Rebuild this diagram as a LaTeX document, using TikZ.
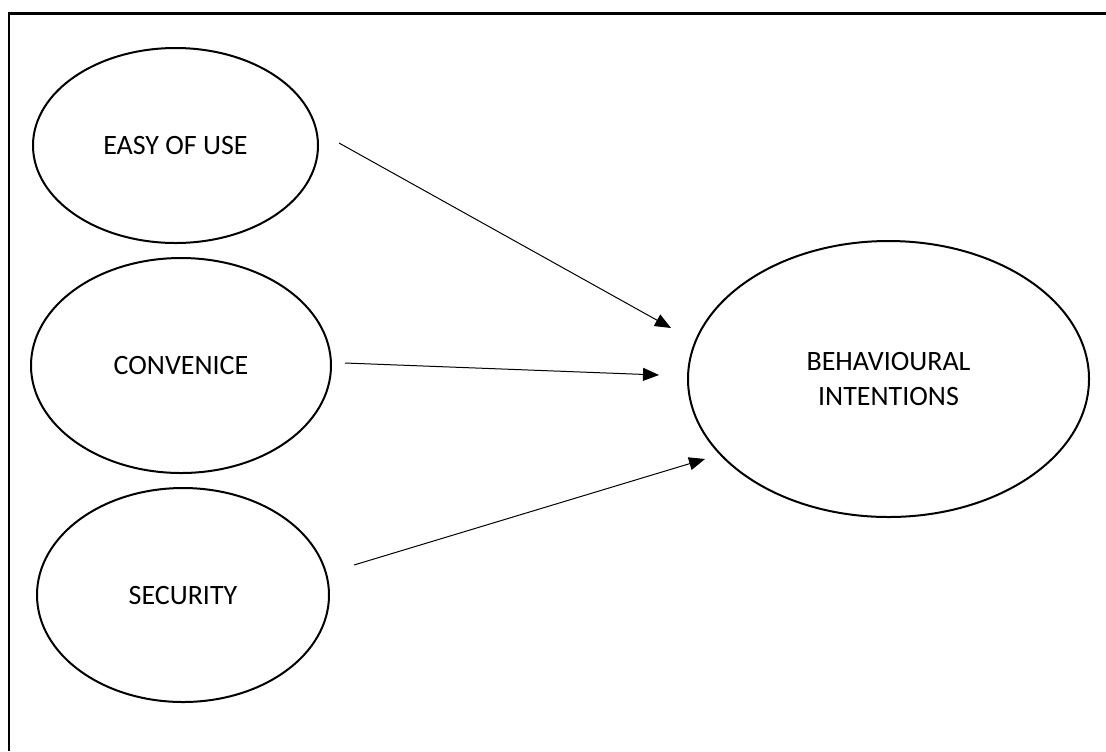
\documentclass[tikz,border=0pt]{standalone}
\usepackage{fontspec}
\setmainfont{Carlito}
\usetikzlibrary{shapes.geometric}
\usetikzlibrary{arrows.meta}
\usetikzlibrary{calc}

\begin{document}
\begin{tikzpicture}[x=0.5pt, y=-0.5pt, every node/.style={ellipse, draw, line width=1pt, inner sep=0pt, align=center, font=\fontsize{14}{17.5}\selectfont}, arrow/.style={-{Triangle[length=8pt, width=6.5pt]}, line width=0.5pt}]
          \useasboundingbox (0,0) rectangle (1106,751);
          \draw[line width=1.2pt] (9,751) -- (9,13.5) -- (1106,13.5);

          \node[minimum width=142.5pt, minimum height=97.5pt] (ease) at (175.5,145.5) {EASY OF USE};

          \node[minimum width=150pt, minimum height=107.5pt] (conv) at (181,365.5) {CONVENICE};

          \node[minimum width=146pt, minimum height=107pt] (sec) at (183,595) {SECURITY};

          \node[minimum width=200.5pt, minimum height=138pt] (bi) at (888.5,379) {BEHAVIOURAL\\INTENTIONS};

          \draw[arrow] ([shift={(20,-2.5)}]ease.east) -- ([shift={(-16,-51)}]bi.west);
          \draw[arrow] ([shift={(13,-2.5)}]conv.east) -- ([shift={(-28,-4)}]bi.west);
          \draw[arrow] ([shift={(24,-30)}]sec.east) -- ([shift={(18,80)}]bi.west);
        \end{tikzpicture}
\end{document}
